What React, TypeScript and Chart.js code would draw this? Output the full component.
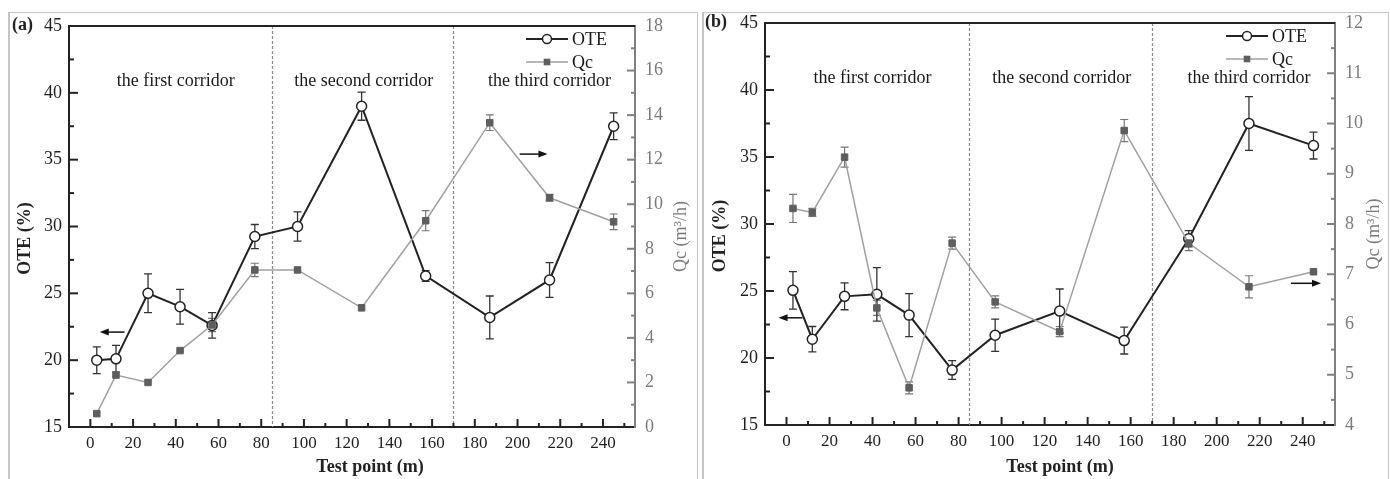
import React, { useEffect, useRef } from "react";
import { Chart, registerables } from "chart.js";

Chart.register(...registerables);

const FONT = "'Liberation Serif', 'Times New Roman', serif";

// ---------- data ----------
const testPoints = [3, 12, 27, 42, 57, 77, 97, 127, 157, 187, 215, 245];
const xTicks = [0, 20, 40, 60, 80, 100, 120, 140, 160, 180, 200, 220, 240];
const oteTicks = [15, 20, 25, 30, 35, 40, 45];
const qcTicksA = [0, 2, 4, 6, 8, 10, 12, 14, 16, 18];
const qcTicksB = [4, 5, 6, 7, 8, 9, 10, 11, 12];

// panel (a)
const oteA = [20.0, 20.1, 25.0, 24.0, 22.6, 29.25, 30.0, 39.0, 26.3, 23.2, 26.0, 37.5];
const oteErrA = [1.0, 1.0, 1.45, 1.3, 0.95, 0.9, 1.1, 1.05, 0.4, 1.6, 1.3, 1.0];
const qcA = [0.6, 2.33, 2.0, 3.43, 4.58, 7.05, 7.05, 5.35, 9.26, 13.66, 10.29, 9.21];
const qcErrA = [0, 0, 0, 0, 0.3, 0.3, 0, 0, 0.45, 0.35, 0.15, 0.35];

// panel (b)
const oteB = [25.05, 21.4, 24.6, 24.75, 23.2, 19.1, 21.7, 23.5, 21.3, 28.9, 37.5, 35.85];
const oteErrB = [1.4, 0.95, 1.0, 2.0, 1.6, 0.7, 1.2, 1.65, 1.0, 0.6, 2.0, 1.0];
const qcB = [8.31, 8.23, 9.33, 6.33, 4.74, 7.62, 6.45, 5.86, 9.86, 7.62, 6.75, 7.05];
const qcErrB = [0.28, 0.08, 0.2, 0.15, 0.12, 0.12, 0.12, 0.1, 0.22, 0.15, 0.22, 0];

const corridorNames = ["the first corridor", "the second corridor", "the third corridor"];
const corridorBounds = [85, 170];
const corridorTextX = [40, 128, 215];

const seriesNames = ["OTE", "Qc"];

type Spec = {
  key: string;
  label: string;
  left: number;
  width: number;
  areaLeft: number;
  areaRight: number;
  areaTop: number;
  areaBottom: number;
  ote: number[];
  oteErr: number[];
  qc: number[];
  qcErr: number[];
  qcMin: number;
  qcMax: number;
  qcTicks: number[];
  qcMinorStep: number;
  leftArrow: [number, number, number];
  rightArrow: [number, number, number];
  labelX: number;
  oteTitleX: number;
  qcTitleX: number;
  xTitleX: number;
};

const specA: Spec = {
  key: "a",
  label: "(a)",
  left: 0,
  width: 697,
  areaLeft: 69,
  areaRight: 635,
  areaTop: 26,
  areaBottom: 427,
  ote: oteA,
  oteErr: oteErrA,
  qc: qcA,
  qcErr: qcErrA,
  qcMin: 0,
  qcMax: 18,
  qcTicks: qcTicksA,
  qcMinorStep: 1,
  leftArrow: [16, 4.4, 22.1],
  rightArrow: [201, 214, 12.25],
  labelX: 12,
  oteTitleX: 25.5,
  qcTitleX: 681,
  xTitleX: 370,
};

const specB: Spec = {
  key: "b",
  label: "(b)",
  left: 700,
  width: 690,
  areaLeft: 765,
  areaRight: 1335,
  areaTop: 23,
  areaBottom: 425,
  ote: oteB,
  oteErr: oteErrB,
  qc: qcB,
  qcErr: qcErrB,
  qcMin: 4,
  qcMax: 12,
  qcTicks: qcTicksB,
  qcMinorStep: 0.5,
  leftArrow: [7.4, -3.7, 23.0],
  rightArrow: [234.5, 248.5, 6.82],
  labelX: 705,
  oteTitleX: 720.5,
  qcTitleX: 1374,
  xTitleX: 1060,
};

const OTE_COLOR = "#222";
const QC_LINE = "#a0a0a0";
const QC_MARK = "#5e5e5e";
const AXIS_DARK = "#222";
const AXIS_GRAY = "#808080";

function drawArrow(ctx: CanvasRenderingContext2D, x1: number, x2: number, y: number) {
  const dir = x2 > x1 ? 1 : -1;
  ctx.save();
  ctx.strokeStyle = "#111";
  ctx.fillStyle = "#111";
  ctx.lineWidth = 1.5;
  ctx.beginPath();
  ctx.moveTo(x1, y);
  ctx.lineTo(x2 - dir * 6, y);
  ctx.stroke();
  ctx.beginPath();
  ctx.moveTo(x2, y);
  ctx.lineTo(x2 - dir * 9, y - 3.5);
  ctx.lineTo(x2 - dir * 9, y + 3.5);
  ctx.closePath();
  ctx.fill();
  ctx.restore();
}

function errorBars(
  ctx: CanvasRenderingContext2D,
  xs: any,
  ys: any,
  vals: number[],
  errs: number[],
  color: string,
  lw: number
) {
  ctx.save();
  ctx.strokeStyle = color;
  ctx.lineWidth = lw;
  for (let i = 0; i < vals.length; i++) {
    const e = errs[i];
    if (!e) continue;
    const px = xs.getPixelForValue(testPoints[i]);
    const t = ys.getPixelForValue(vals[i] + e);
    const b = ys.getPixelForValue(vals[i] - e);
    ctx.beginPath();
    ctx.moveTo(px, t);
    ctx.lineTo(px, b);
    ctx.moveTo(px - 4, t);
    ctx.lineTo(px + 4, t);
    ctx.moveTo(px - 4, b);
    ctx.lineTo(px + 4, b);
    ctx.stroke();
  }
  ctx.restore();
}

function makePlugin(s: Spec) {
  return {
    id: "deco" + s.key,
    beforeDatasetsDraw(chart: any) {
      const ctx: CanvasRenderingContext2D = chart.ctx;
      const xs = chart.scales.x;
      const ys = chart.scales.y;
      const y1 = chart.scales.y1;
      const a = chart.chartArea;
      ctx.save();
      ctx.strokeStyle = "#888";
      ctx.lineWidth = 1.2;
      ctx.setLineDash([3, 2]);
      corridorBounds.forEach((v) => {
        const px = Math.round(xs.getPixelForValue(v)) + 0.5;
        ctx.beginPath();
        ctx.moveTo(px, a.top);
        ctx.lineTo(px, a.bottom);
        ctx.stroke();
      });
      ctx.restore();
      errorBars(ctx, xs, y1, s.qc, s.qcErr, "#777", 1.2);
      errorBars(ctx, xs, ys, s.ote, s.oteErr, "#333", 1.3);
    },
    afterDraw(chart: any) {
      const ctx: CanvasRenderingContext2D = chart.ctx;
      const xs = chart.scales.x;
      const ys = chart.scales.y;
      const y1 = chart.scales.y1;
      const a = chart.chartArea;
      const off = s.left;

      ctx.save();
      ctx.strokeStyle = AXIS_DARK;
      ctx.lineWidth = 2;
      ctx.beginPath();
      ctx.moveTo(a.left - 1, a.top);
      ctx.lineTo(a.right, a.top);
      ctx.stroke();

      ctx.lineWidth = 2;
      ctx.strokeStyle = AXIS_DARK;
      for (let v = 17.5; v < 45 - 1e-6; v += 2.5) {
        const py = ys.getPixelForValue(v);
        const major = Math.abs(v / 5 - Math.round(v / 5)) < 1e-6;
        ctx.beginPath();
        ctx.moveTo(a.left, py);
        ctx.lineTo(a.left + (major ? 9 : 5), py);
        ctx.stroke();
      }
      for (let v = 0; v <= 250; v += 10) {
        const px = xs.getPixelForValue(v);
        const major = v % 20 === 0;
        ctx.beginPath();
        ctx.moveTo(px, a.bottom);
        ctx.lineTo(px, a.bottom - (major ? 8 : 4));
        ctx.stroke();
      }
      ctx.strokeStyle = AXIS_GRAY;
      const st = s.qcMinorStep;
      for (let v = s.qcMin + st; v < s.qcMax - 1e-6; v += st) {
        const py = y1.getPixelForValue(v);
        const major = s.qcTicks.some((t) => Math.abs(t - v) < 1e-6);
        ctx.beginPath();
        ctx.moveTo(a.right, py);
        ctx.lineTo(a.right - (major ? 8 : 4), py);
        ctx.stroke();
      }
      ctx.restore();

      ctx.save();
      ctx.fillStyle = "#1a1a1a";
      ctx.font = `18px ${FONT}`;
      ctx.textAlign = "center";
      ctx.textBaseline = "middle";
      corridorNames.forEach((n, i) => {
        ctx.fillText(n, xs.getPixelForValue(corridorTextX[i]), a.top + 55);
      });
      ctx.restore();

      ctx.save();
      const lx1 = a.right - 109;
      const lx2 = a.right - 67;
      const lm = (lx1 + lx2) / 2;
      const ly1 = a.top + 13;
      const ly2 = a.top + 36;
      ctx.strokeStyle = OTE_COLOR;
      ctx.lineWidth = 2;
      ctx.beginPath();
      ctx.moveTo(lx1, ly1);
      ctx.lineTo(lx2, ly1);
      ctx.stroke();
      ctx.fillStyle = "#fff";
      ctx.lineWidth = 1.5;
      ctx.beginPath();
      ctx.arc(lm, ly1, 4.5, 0, Math.PI * 2);
      ctx.fill();
      ctx.stroke();
      ctx.strokeStyle = QC_LINE;
      ctx.lineWidth = 1.5;
      ctx.beginPath();
      ctx.moveTo(lx1, ly2);
      ctx.lineTo(lx2, ly2);
      ctx.stroke();
      ctx.fillStyle = QC_MARK;
      ctx.fillRect(lm - 3.3, ly2 - 3.3, 6.6, 6.6);
      ctx.fillStyle = "#1a1a1a";
      ctx.font = `18px ${FONT}`;
      ctx.textAlign = "left";
      ctx.textBaseline = "middle";
      ctx.fillText(seriesNames[0], lx2 + 4, ly1 + 1);
      ctx.fillText(seriesNames[1], lx2 + 4, ly2 + 1);
      ctx.restore();

      drawArrow(
        ctx,
        xs.getPixelForValue(s.leftArrow[0]),
        xs.getPixelForValue(s.leftArrow[1]),
        ys.getPixelForValue(s.leftArrow[2])
      );
      drawArrow(
        ctx,
        xs.getPixelForValue(s.rightArrow[0]),
        xs.getPixelForValue(s.rightArrow[1]),
        y1.getPixelForValue(s.rightArrow[2])
      );

      ctx.save();
      ctx.fillStyle = "#222";
      ctx.font = `bold 18px ${FONT}`;
      ctx.textAlign = "left";
      ctx.textBaseline = "middle";
      ctx.fillText(s.label, s.labelX - off, a.top - 1);
      ctx.textAlign = "center";
      ctx.fillText("Test point (m)", s.xTitleX - off, 467);
      ctx.save();
      ctx.translate(s.oteTitleX - off, (a.top + a.bottom) / 2 + 12);
      ctx.rotate(-Math.PI / 2);
      ctx.fillText("OTE (%)", 0, 0);
      ctx.restore();
      ctx.save();
      ctx.fillStyle = "#7a7a7a";
      ctx.font = `18px ${FONT}`;
      ctx.translate(s.qcTitleX - off, (a.top + a.bottom) / 2 + 10);
      ctx.rotate(-Math.PI / 2);
      ctx.fillText("Qc (m³/h)", 0, 0);
      ctx.restore();
      ctx.restore();
    },
  };
}

function makeConfig(s: Spec): any {
  return {
    type: "line",
    data: {
      datasets: [
        {
          label: seriesNames[1],
          data: testPoints.map((x, i) => ({ x, y: s.qc[i] })),
          yAxisID: "y1",
          borderColor: QC_LINE,
          borderWidth: 1.5,
          pointStyle: "rect",
          pointRadius: 4.6,
          pointBackgroundColor: QC_MARK,
          pointBorderColor: QC_MARK,
          pointBorderWidth: 1,
          tension: 0,
        },
        {
          label: seriesNames[0],
          data: testPoints.map((x, i) => ({ x, y: s.ote[i] })),
          yAxisID: "y",
          borderColor: OTE_COLOR,
          borderWidth: 2,
          pointStyle: "circle",
          pointRadius: 5,
          pointBackgroundColor: "#fff",
          pointBorderColor: OTE_COLOR,
          pointBorderWidth: 1.5,
          tension: 0,
        },
      ],
    },
    options: {
      responsive: false,
      animation: false,
      devicePixelRatio: 1,
      events: [],
      layout: { padding: { left: 0, right: 0, top: s.areaTop, bottom: 0 } },
      plugins: { legend: { display: false }, tooltip: { enabled: false } },
      scales: {
        x: {
          type: "linear",
          position: "bottom",
          min: -10,
          max: 255,
          afterBuildTicks: (sc: any) => {
            sc.ticks = xTicks.map((v) => ({ value: v }));
          },
          ticks: {
            font: { family: FONT, size: 17 },
            color: "#1f1f1f",
            padding: 6,
            autoSkip: false,
            maxRotation: 0,
          },
          grid: { display: false, drawTicks: false },
          border: { display: true, color: AXIS_DARK, width: 2 },
          afterFit: (sc: any) => {
            sc.height = 479 - s.areaBottom;
          },
        },
        y: {
          type: "linear",
          position: "left",
          min: 15,
          max: 45,
          afterBuildTicks: (sc: any) => {
            sc.ticks = oteTicks.map((v) => ({ value: v }));
          },
          ticks: {
            font: { family: FONT, size: 18 },
            color: "#1f1f1f",
            padding: 7,
          },
          grid: { display: false, drawTicks: false },
          border: { display: true, color: AXIS_DARK, width: 2 },
          afterFit: (sc: any) => {
            sc.width = s.areaLeft - s.left;
          },
        },
        y1: {
          type: "linear",
          position: "right",
          min: s.qcMin,
          max: s.qcMax,
          afterBuildTicks: (sc: any) => {
            sc.ticks = s.qcTicks.map((v) => ({ value: v }));
          },
          ticks: {
            font: { family: FONT, size: 18 },
            color: "#7a7a7a",
            padding: 10,
          },
          grid: { display: false, drawTicks: false },
          border: { display: true, color: AXIS_GRAY, width: 2 },
          afterFit: (sc: any) => {
            sc.width = s.left + s.width - s.areaRight;
          },
        },
      },
    },
    plugins: [makePlugin(s)],
  };
}

function Panel({ spec }: { spec: Spec }) {
  const ref = useRef<HTMLCanvasElement | null>(null);
  useEffect(() => {
    if (!ref.current) return;
    const chart = new Chart(ref.current, makeConfig(spec));
    return () => chart.destroy();
  }, [spec]);
  return (
    <canvas
      ref={ref}
      width={spec.width}
      height={479}
      style={{ position: "absolute", left: spec.left, top: 0, width: spec.width, height: 479 }}
    />
  );
}

export default function App() {
  return (
    <div
      style={{
        position: "fixed",
        left: 0,
        top: 0,
        width: 1390,
        height: 479,
        overflow: "hidden",
        background: "#fff",
      }}
    >
      <div
        style={{
          position: "absolute",
          left: 8,
          top: 12,
          width: 690,
          height: 470,
          border: "1px solid #c4c4c4",
          borderLeftWidth: 2,
          boxSizing: "border-box",
        }}
      />
      <div
        style={{
          position: "absolute",
          left: 702,
          top: 12,
          width: 687,
          height: 470,
          border: "1px solid #c4c4c4",
          borderLeftWidth: 2,
          boxSizing: "border-box",
        }}
      />
      <Panel spec={specA} />
      <Panel spec={specB} />
    </div>
  );
}
